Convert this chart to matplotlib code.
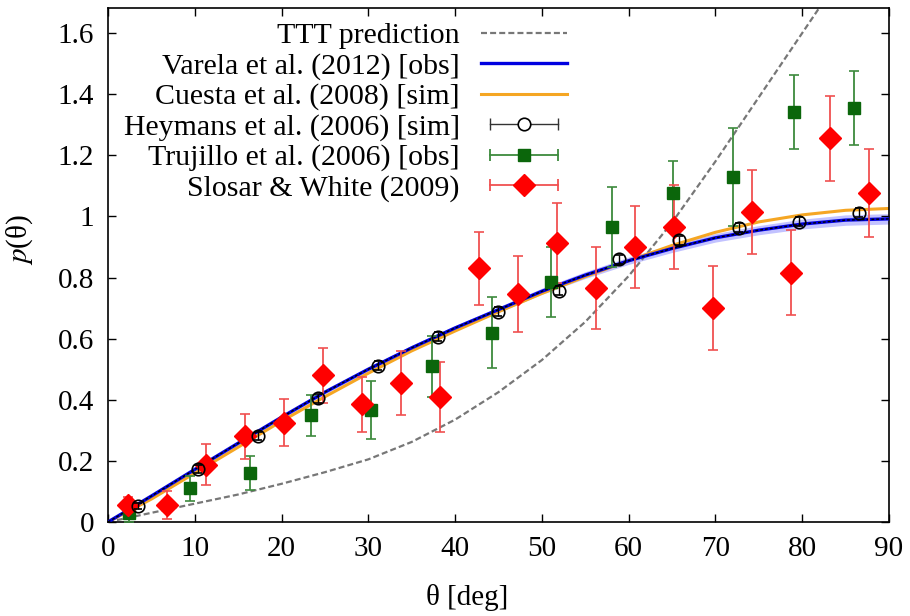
import matplotlib
matplotlib.use('Agg')
import matplotlib.pyplot as plt
from matplotlib.ticker import FuncFormatter
from matplotlib.lines import Line2D
from matplotlib.legend_handler import HandlerLine2D
import numpy as np

plt.rcParams['font.family'] = ['Liberation Serif', 'DejaVu Serif']
plt.rcParams['mathtext.fontset'] = 'stix'

# model curves, sampled every 5 deg
theta_curve = [0, 5, 10, 15, 20, 25, 30, 35, 40, 45, 50, 55, 60, 65, 70, 75, 80, 85, 90]
varela = [0, 0.085, 0.172, 0.258, 0.343, 0.425, 0.5, 0.57, 0.635, 0.695, 0.755,
          0.808, 0.855, 0.895, 0.93, 0.955, 0.975, 0.988, 0.992]
varela_err = [0, 0.004, 0.005, 0.006, 0.006, 0.007, 0.007, 0.008, 0.008, 0.009, 0.01,
              0.011, 0.012, 0.013, 0.014, 0.015, 0.016, 0.017, 0.017]
cuesta = [0, 0.075, 0.16, 0.245, 0.33, 0.41, 0.487, 0.56, 0.625, 0.688, 0.748,
          0.803, 0.855, 0.905, 0.948, 0.982, 1.005, 1.02, 1.026]
ttt = [0, 0.03, 0.06, 0.09, 0.125, 0.163, 0.205, 0.262, 0.335, 0.425, 0.53,
       0.655, 0.805, 0.98, 1.18, 1.39, 1.60, 1.81, 2.02]

# Heymans et al. (2006) simulation
heymans_x = [3.46, 10.38, 17.31, 24.23, 31.15, 38.08, 45.0, 51.92, 58.85, 65.77, 72.69, 79.62, 86.54]
heymans_y = [0.052, 0.173, 0.28, 0.405, 0.512, 0.607, 0.688, 0.757, 0.86, 0.922, 0.963, 0.983, 1.012]
heymans_e = [0.01, 0.012, 0.013, 0.014, 0.014, 0.015, 0.015, 0.015, 0.015, 0.015, 0.015, 0.015, 0.015]

# Trujillo et al. (2006) observations
trujillo_x = [2.4, 9.4, 16.4, 23.4, 30.3, 37.3, 44.2, 51.1, 58.1, 65.1, 72.0, 79.0, 86.0]
trujillo_y = [0.03, 0.11, 0.16, 0.35, 0.365, 0.51, 0.62, 0.785, 0.965, 1.077, 1.13, 1.342, 1.355]
trujillo_e = [0.03, 0.04, 0.055, 0.067, 0.095, 0.1, 0.117, 0.115, 0.13, 0.105, 0.16, 0.12, 0.12]

# Slosar & White (2009)
slosar_x = [2.25, 6.75, 11.25, 15.75, 20.25, 24.75, 29.25, 33.75, 38.25, 42.75,
            47.25, 51.75, 56.25, 60.75, 65.25, 69.75, 74.25, 78.75, 83.25, 87.75]
slosar_y = [0.055, 0.055, 0.187, 0.28, 0.325, 0.48, 0.385, 0.455, 0.41, 0.83,
            0.746, 0.913, 0.766, 0.9, 0.965, 0.70, 1.014, 0.815, 1.255, 1.077]
slosar_e = [0.027, 0.045, 0.067, 0.075, 0.077, 0.09, 0.09, 0.105, 0.115, 0.12,
            0.125, 0.13, 0.135, 0.135, 0.138, 0.137, 0.138, 0.139, 0.14, 0.144]

fig = plt.figure(figsize=(9.1, 6.16), dpi=100)
ax = fig.add_axes([0.1187, 0.1526, 0.8582, 0.8344])

lo = np.array(varela) - np.array(varela_err)
hi = np.array(varela) + np.array(varela_err)
ax.fill_between(theta_curve, lo, hi, color='#a8a8ff', alpha=0.7, lw=0, zorder=1)

l_ttt, = ax.plot(theta_curve, ttt, color='#777777', ls=(0, (2.7, 1.4)), lw=1.6, zorder=2)
l_var, = ax.plot(theta_curve, varela, color='#0000e0', lw=2.4, zorder=3)
l_cue, = ax.plot(theta_curve, cuesta, color='#f5a623', lw=2.2, zorder=2.5)
ax.plot(theta_curve, varela, color='black', ls=(0, (2, 1.5)), lw=1.0, zorder=4)

ax.errorbar(heymans_x, heymans_y, yerr=heymans_e, fmt='o', mfc='none', mec='black',
            ms=9, mew=1.2, ecolor='black', elinewidth=1.0, capsize=3, zorder=6)
ax.errorbar(trujillo_x, trujillo_y, yerr=trujillo_e, fmt='s', color='#0b660b',
            ms=9, ecolor='#3d8a3d', elinewidth=1.3, capsize=3.5, capthick=1.2, zorder=5)
ax.errorbar(slosar_x, slosar_y, yerr=slosar_e, fmt='D', color='#ff0000',
            ms=11, ecolor='#f05050', elinewidth=1.3, capsize=3.5, capthick=1.2, zorder=5)

# gnuplot-like keys for the points: horizontal bar with end ticks + symbol
cap_handler = HandlerLine2D(numpoints=2)
hmap = {}
def point_key(ecol, lw, **marker):
    bar = Line2D([], [], color=ecol, lw=lw, marker='|', ms=8, mew=lw)
    sym = Line2D([], [], ls='none', **marker)
    hmap[bar] = cap_handler
    return (bar, sym)

k_hey = point_key('#333333', 1.0, marker='o', mfc='white', mec='black', ms=9, mew=1.2)
k_tru = point_key('#3d8a3d', 1.3, marker='s', color='#0b660b', ms=9)
k_slo = point_key('#f05050', 1.3, marker='D', color='#ff0000', ms=11)

ax.set_xlim(0, 90)
ax.set_ylim(0, 1.682)
ax.set_xticks(np.arange(0, 91, 10))
ax.set_yticks(np.arange(0, 1.61, 0.2))
ax.yaxis.set_major_formatter(FuncFormatter(lambda v, p: '%g' % round(v, 2)))
ax.tick_params(direction='in', length=6, width=1, top=True, right=True,
               labelsize=21, pad=10)
for s in ax.spines.values():
    s.set_linewidth(1.2)

ax.set_xlabel('θ [deg]', fontsize=21)
ax.set_ylabel('$p$(θ)', fontsize=21)
ax.xaxis.set_label_coords(0.46, -0.12)
ax.yaxis.set_label_coords(-0.093, 0.55)

ax.legend([l_ttt, l_var, l_cue, k_hey, k_tru, k_slo],
          ['TTT prediction', 'Varela et al. (2012) [obs]', 'Cuesta et al. (2008) [sim]',
           'Heymans et al. (2006) [sim]', 'Trujillo et al. (2006) [obs]',
           'Slosar & White (2009)'],
          handler_map=hmap,
          loc='upper right', bbox_to_anchor=(0.588, 0.972), frameon=False,
          markerfirst=False, fontsize=21.5, handlelength=2.9, labelspacing=0.11,
          handletextpad=0.7, borderaxespad=0, borderpad=0)

fig.savefig('out.png', dpi=100)
